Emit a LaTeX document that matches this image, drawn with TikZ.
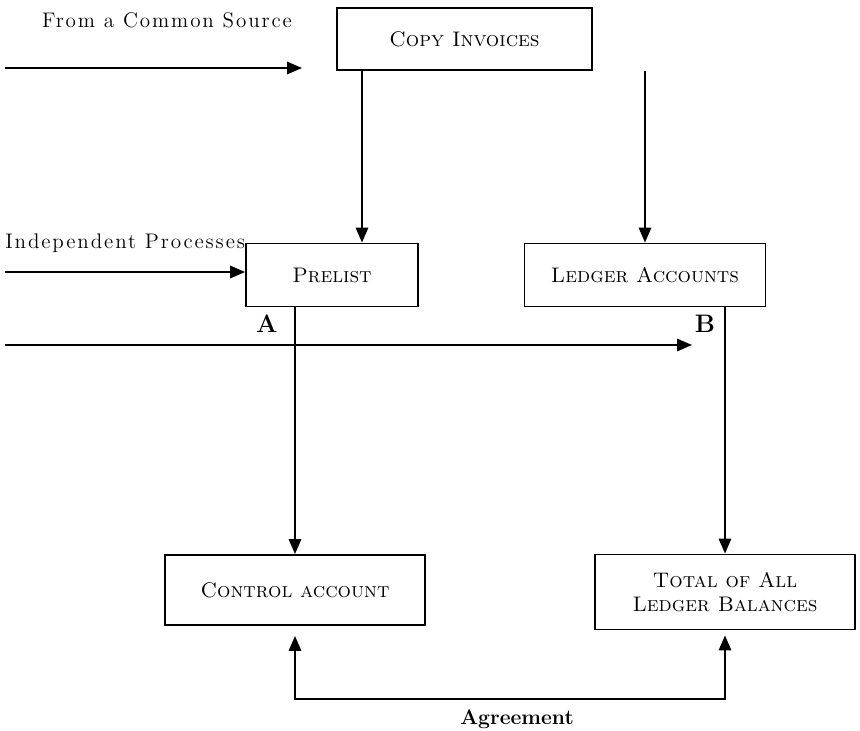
\documentclass[tikz,border=0pt]{standalone}
\usepackage{fontspec}
\usepackage{tikz}
\usetikzlibrary{calc}
\usetikzlibrary{arrows.meta}

\newfontfamily\spacedrm{lmroman12-regular}[Extension=.otf, LetterSpace=9]

\tikzset{
  box/.style={draw, line width=1.1pt, minimum height=1.26cm, font=\large\scshape},
  arr/.style={line width=1pt, -{Triangle[length=0.3cm, width=0.25cm]}},
  both/.style={line width=1pt, {Triangle[length=0.3cm, width=0.25cm]}-{Triangle[length=0.3cm, width=0.25cm]}},
  lbl/.style={font=\large\spacedrm}
}

\begin{document}
\begin{tikzpicture}[x=0.02cm, y=-0.02cm]

\useasboundingbox (0, 0) rectangle (860, 731);

\node [box, minimum width=5.1cm, minimum height=1.24cm] (copy) at (464.5, 39) {Copy Invoices};
\node [box, minimum width=3.44cm] (prelist) at (332, 275) {Prelist};
\node [box, minimum width=4.82cm] (ledger) at (645, 275) {Ledger Accounts};
\node [box, minimum width=5.2cm, minimum height=1.4cm] (control) at (295, 590) {Control account};
\node [box, minimum width=5.2cm, minimum height=1.5cm, align=center] (total) at (725, 592) {Total of All\\Ledger Balances};

\node [lbl] (common) at (167, 20) {From a Common Source};
\node [lbl, anchor=west, inner sep=0pt] (indep) at (5, 243) {Independent Processes};
\node [font=\Large\bfseries] (pointa) at (267, 324) {A};
\node [font=\Large\bfseries] (pointb) at (705, 324) {B};
\node [font=\large\bfseries] (agree) at (517, 719) {Agreement};

\coordinate (s1) at (5, 68);
\coordinate (e1) at (302, 68);
\coordinate (s2) at (5, 272);
\coordinate (s3) at (5, 345);
\coordinate (e3) at (692, 345);
\coordinate (p1) at ([xshift=0.6cm]prelist.north);

% inputs from the left
\draw [arr] (s1) -- (e1);
\draw [arr] (s2) -- (prelist.west |- s2);
\draw [arr] (s3) -- (e3);

% downwards
\draw [arr] (copy.south -| p1) -- (p1);
\draw [arr] (copy.south -| ledger.north) -- (ledger.north);
\draw [arr] (prelist.south -| control.north) -- (control.north);
\draw [arr] (ledger.south -| total.north) -- (total.north);

% agreement
\draw [both, shorten <=0.2cm, shorten >=0.1cm] (control.south) -- ++(0, 73) -| (total.south);

\end{tikzpicture}
\end{document}
